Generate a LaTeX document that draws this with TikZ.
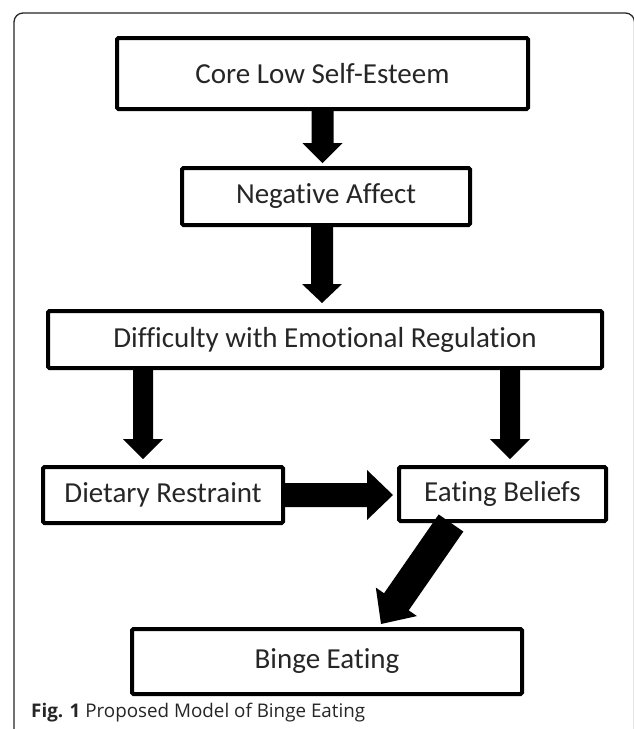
\documentclass[tikz,border=0pt]{standalone}
\usepackage{fontspec}
\setmainfont[Ligatures=CommonOff]{Carlito}
\newfontfamily\capfont{Open Sans}
\usetikzlibrary{calc}
\tikzset{
  flowbox/.style={draw=black, line width=4pt, rounded corners=1.5pt, fill=white,
    inner sep=0pt, text=black!85, font=\fontsize{29}{34}\selectfont},
  framestyle/.style={draw=black!85, line width=1.3pt, rounded corners=9pt},
  arrowfill/.style={fill=black},
}
\newcommand\blockarrow[5]{% start, tip, shaft half, head half, head length
  \coordinate (ba-h) at ($(#2)!#5pt!(#1)$);
  \fill[arrowfill]
    ($(#1)!#3pt!90:(#2)$) -- ($(ba-h)!#3pt!90:(#2)$) -- ($(ba-h)!#4pt!90:(#2)$) --
    (#2) --
    ($(ba-h)!#4pt!-90:(#2)$) -- ($(ba-h)!#3pt!-90:(#2)$) -- ($(#1)!#3pt!-90:(#2)$) -- cycle;
}
\begin{document}
\begin{tikzpicture}[x=1pt, y=-1pt]
\useasboundingbox (0,0) rectangle (633,729);
\fill[white] (0,0) rectangle (633,729);
% outer frame
\draw[framestyle] (14,745) -- (14,13) -- (634.5,13) -- (634.5,745);

% boxes
\node[flowbox, minimum width=411pt, minimum height=71pt] (core) at (322.5,73.5) {Core Low Self-Esteem};
\node[flowbox, minimum width=288pt, minimum height=57pt] (neg) at (326,196.5) {Negative Affect};
\node[flowbox, minimum width=554pt, minimum height=57pt] (diff) at (325,339.5) {Difficulty with Emotional Regulation};
\node[flowbox, minimum width=240pt, minimum height=56pt] (diet) at (163,495) {Dietary Restraint};
\node[flowbox, minimum width=207pt, minimum height=54pt] (eat) at (502.5,494) {Eating Beliefs};
\node[flowbox, minimum width=390pt, minimum height=65pt] (binge) at (327,661.5) {Binge Eating};

% arrow end points
\coordinate (a1s) at (core.south);
\coordinate (a1t) at ([yshift=3pt]core.south |- neg.north);
\coordinate (a2s) at ([xshift=-4pt]neg.south);
\coordinate (a2t) at ([yshift=6pt]a2s |- diff.north);
\coordinate (a3s) at ([xshift=-20pt]diet.north |- diff.south);
\coordinate (a3t) at ([xshift=-20pt,yshift=6pt]diet.north);
\coordinate (a4s) at ([xshift=7.5pt]eat.north |- diff.south);
\coordinate (a4t) at ([xshift=7.5pt,yshift=6pt]eat.north);
\coordinate (a5s) at (diet.east);
\coordinate (a5t) at ([xshift=-4pt]eat.west |- diet.east);
\coordinate (a6s) at ([xshift=-51.5pt]eat.south);
\coordinate (a6t) at ([xshift=54pt,yshift=3pt]binge.north);

\blockarrow{a1s}{a1t}{11}{20}{20}
\blockarrow{a2s}{a2t}{11}{20}{19}
\blockarrow{a3s}{a3t}{10}{20}{20}
\blockarrow{a4s}{a4t}{10}{20}{20}
\blockarrow{a5s}{a5t}{12}{25}{26}
\blockarrow{a6s}{a6t}{15}{25}{27}

% caption
\node[anchor=base west, inner sep=0pt, text=black!85, font=\capfont\fontsize{18.8}{22}\selectfont] (cap) at (31,717)
  {\textbf{Fig. 1} Proposed Model of Binge Eating};
\end{tikzpicture}
\end{document}
